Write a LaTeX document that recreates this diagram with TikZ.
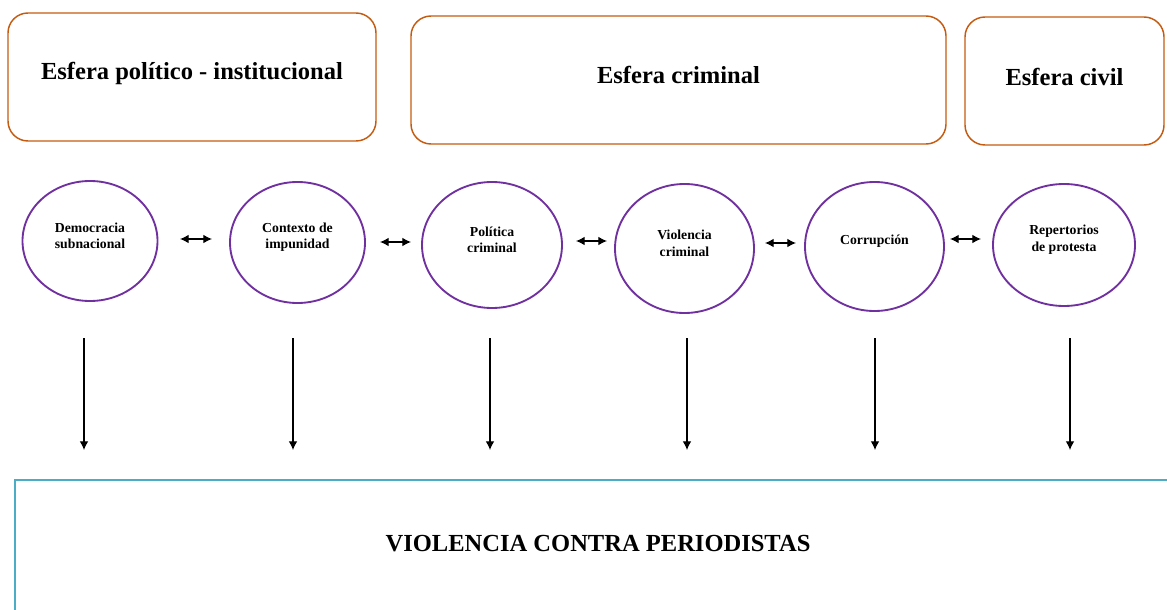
\documentclass[tikz,border=0pt]{standalone}
\usepackage{fontspec}
\setmainfont{Liberation Serif}
\usetikzlibrary{shapes.geometric,arrows.meta}
\definecolor{naranja}{HTML}{C55A11}
\definecolor{morado}{HTML}{7030A0}
\definecolor{turquesa}{HTML}{4BACC6}
\tikzset{
	esfera/.style={draw=naranja,line width=1.1pt,rounded corners=15pt,inner sep=0pt},
	titulo/.style={inner sep=0pt,font=\fontsize{18.4}{21}\selectfont\bfseries},
	factor/.style={ellipse,draw=morado,line width=1.4pt,inner sep=0pt},
	factortexto/.style={inner sep=0pt,align=center,
		font=\fontsize{10.3}{12.5}\selectfont\bfseries},
	flecha/.style={line width=0.9pt,>={Latex[length=6.5pt,width=6.5pt]}},
}
\begin{document}
\begin{tikzpicture}[x=0.75pt,y=-0.75pt]
	\useasboundingbox (0,0) rectangle (1167,610);
	% esferas
	\foreach \Xc/\Yc/\Ancho/\Dy/\Nombre/\Texto in
	{192/77/368/4/e1/Esfera político - institucional,
	 678.5/80/535/5/e2/Esfera criminal,
	 1064.5/81/199/4/e3/Esfera civil}
	{
		\node[esfera,minimum width=\Ancho*0.75pt,minimum height=96pt]
		(\Nombre) at (\Xc,\Yc) {};
		\node[titulo] (t\Nombre) at ([yshift=\Dy*0.75pt]\Nombre.center) {\Texto};
	}
	% factores
	\foreach \Xc/\Yc/\Ax/\Ay/\Nombre/\Texto in
	{90/241/135/120/f1/Democracia\\subnacional,
	 297.5/242.5/135/121/f2/Contexto de\\impunidad,
	 492/245/140/126/f3/Política\\criminal,
	 684.5/248.5/139/129/f4/Violencia\\criminal,
	 874.5/246.5/139/129/f5/Corrupción,
	 1064/245/142/122/f6/Repertorios\\de protesta}
	{
		\node[factor,minimum width=\Ax*0.75pt,minimum height=\Ay*0.75pt]
		(\Nombre) at (\Xc,\Yc) {};
		\node[factortexto] (t\Nombre) at ([yshift=4pt]\Nombre.center) {\Texto};
	}
	\foreach \Xa/\Xb/\Yc/\i in
	{180/212/239/1,380/411/242/2,576/607/241/3,765/796/243/4,950/981/239/5}
	{
		\coordinate (da\i) at (\Xa,\Yc);
		\coordinate (db\i) at (\Xb,\Yc);
		\draw[flecha,<->] (da\i) -- (db\i);
	}
	% hacia la violencia
	\draw[turquesa,line width=1.5pt] (15,625) |- (1185,480);
	\node[titulo] (vcp) at (598,544) {VIOLENCIA CONTRA PERIODISTAS};
	\foreach \Xc/\i in {84/1,293/2,490/3,687/4,875/5,1070/6}
	{
		\coordinate (va\i) at (\Xc,338);
		\coordinate (vb\i) at (\Xc,450);
		\draw[flecha,->] (va\i) -- (vb\i);
	}
\end{tikzpicture}
\end{document}
